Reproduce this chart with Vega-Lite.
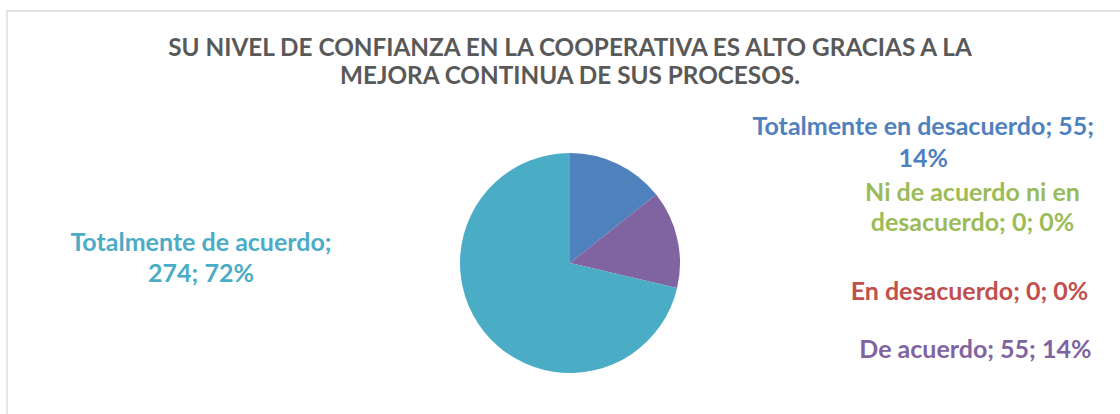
{
  "$schema": "https://vega.github.io/schema/vega-lite/v6.json",
  "width": 1126,
  "height": 504,
  "autosize": {"type": "none"},
  "padding": {"left": 7, "top": 11, "right": -13, "bottom": -101},
  "background": "white",
  "title": {
    "text": ["SU NIVEL DE CONFIANZA EN LA COOPERATIVA ES ALTO GRACIAS A LA", "MEJORA CONTINUA DE SUS PROCESOS."],
    "anchor": "middle",
    "frame": "group",
    "font": "Lato",
    "fontSize": 24.3,
    "fontWeight": "bold",
    "color": "#595959",
    "lineHeight": 27.6,
    "offset": -86
  },
  "datasets": {
    "respuestas": [
      {"cat": "Totalmente en desacuerdo", "valor": 55, "orden": 1, "etiqueta": "Totalmente en desacuerdo; 55;\n14%"},
      {"cat": "Ni de acuerdo ni en desacuerdo", "valor": 0, "orden": 2, "etiqueta": "Ni de acuerdo ni en\ndesacuerdo; 0; 0%"},
      {"cat": "En desacuerdo", "valor": 0, "orden": 3, "etiqueta": "En desacuerdo; 0; 0%"},
      {"cat": "De acuerdo", "valor": 55, "orden": 4, "etiqueta": "De acuerdo; 55; 14%"},
      {"cat": "Totalmente de acuerdo", "valor": 274, "orden": 5, "etiqueta": "Totalmente de acuerdo;\n274; 72%"}
    ],
    "marco": [{"elemento": "borde"}]
  },
  "data": {"name": "respuestas"},
  "layer": [
    {
      "data": {"name": "marco"},
      "mark": {"type": "rect", "fill": "transparent", "stroke": "#D9D9D9", "strokeWidth": 1.3},
      "encoding": {}
    },
    {
      "mark": {"type": "arc", "outerRadius": 110},
      "encoding": {
        "theta": {"field": "valor", "type": "quantitative", "stack": true},
        "order": {"field": "orden", "type": "quantitative"},
        "color": {
          "field": "cat",
          "type": "nominal",
          "scale": {
            "domain": ["Totalmente en desacuerdo", "Ni de acuerdo ni en desacuerdo", "En desacuerdo", "De acuerdo", "Totalmente de acuerdo"],
            "range": ["#4F81BD", "#9BBB59", "#C0504D", "#8064A2", "#4BACC6"]
          },
          "legend": null
        }
      }
    },
    {
      "mark": {"type": "text", "radius": 150, "dx": 288, "dy": -1, "font": "Lato", "fontSize": 25, "fontWeight": "bold", "align": "center", "baseline": "middle", "lineBreak": "\n", "lineHeight": 32},
      "encoding": {
        "theta": {"field": "valor", "type": "quantitative", "stack": true},
        "order": {"field": "orden", "type": "quantitative"},
        "color": {"field": "cat", "type": "nominal", "legend": null},
        "text": {"condition": {"test": "datum.cat === 'Totalmente en desacuerdo'", "field": "etiqueta"}, "value": ""}
      }
    },
    {
      "mark": {"type": "text", "radius": 150, "dx": 285, "dy": 23.5, "font": "Lato", "fontSize": 25, "fontWeight": "bold", "align": "center", "baseline": "middle", "lineBreak": "\n", "lineHeight": 30},
      "encoding": {
        "theta": {"field": "valor", "type": "quantitative", "stack": true},
        "order": {"field": "orden", "type": "quantitative"},
        "color": {"field": "cat", "type": "nominal", "legend": null},
        "text": {"condition": {"test": "datum.cat === 'Ni de acuerdo ni en desacuerdo'", "field": "etiqueta"}, "value": ""}
      }
    },
    {
      "mark": {"type": "text", "radius": 150, "dx": 282, "dy": 122, "font": "Lato", "fontSize": 25, "fontWeight": "bold", "align": "center", "baseline": "middle", "lineBreak": "\n", "lineHeight": 31},
      "encoding": {
        "theta": {"field": "valor", "type": "quantitative", "stack": true},
        "order": {"field": "orden", "type": "quantitative"},
        "color": {"field": "cat", "type": "nominal", "legend": null},
        "text": {"condition": {"test": "datum.cat === 'En desacuerdo'", "field": "etiqueta"}, "value": ""}
      }
    },
    {
      "mark": {"type": "text", "radius": 150, "dx": 259, "dy": 120, "font": "Lato", "fontSize": 25, "fontWeight": "bold", "align": "center", "baseline": "middle", "lineBreak": "\n", "lineHeight": 31},
      "encoding": {
        "theta": {"field": "valor", "type": "quantitative", "stack": true},
        "order": {"field": "orden", "type": "quantitative"},
        "color": {"field": "cat", "type": "nominal", "legend": null},
        "text": {"condition": {"test": "datum.cat === 'De acuerdo'", "field": "etiqueta"}, "value": ""}
      }
    },
    {
      "mark": {"type": "text", "radius": 150, "dx": -251.5, "dy": -113, "font": "Lato", "fontSize": 25, "fontWeight": "bold", "align": "center", "baseline": "middle", "lineBreak": "\n", "lineHeight": 31},
      "encoding": {
        "theta": {"field": "valor", "type": "quantitative", "stack": true},
        "order": {"field": "orden", "type": "quantitative"},
        "color": {"field": "cat", "type": "nominal", "legend": null},
        "text": {"condition": {"test": "datum.cat === 'Totalmente de acuerdo'", "field": "etiqueta"}, "value": ""}
      }
    }
  ],
  "config": {"view": {"stroke": null}}
}
